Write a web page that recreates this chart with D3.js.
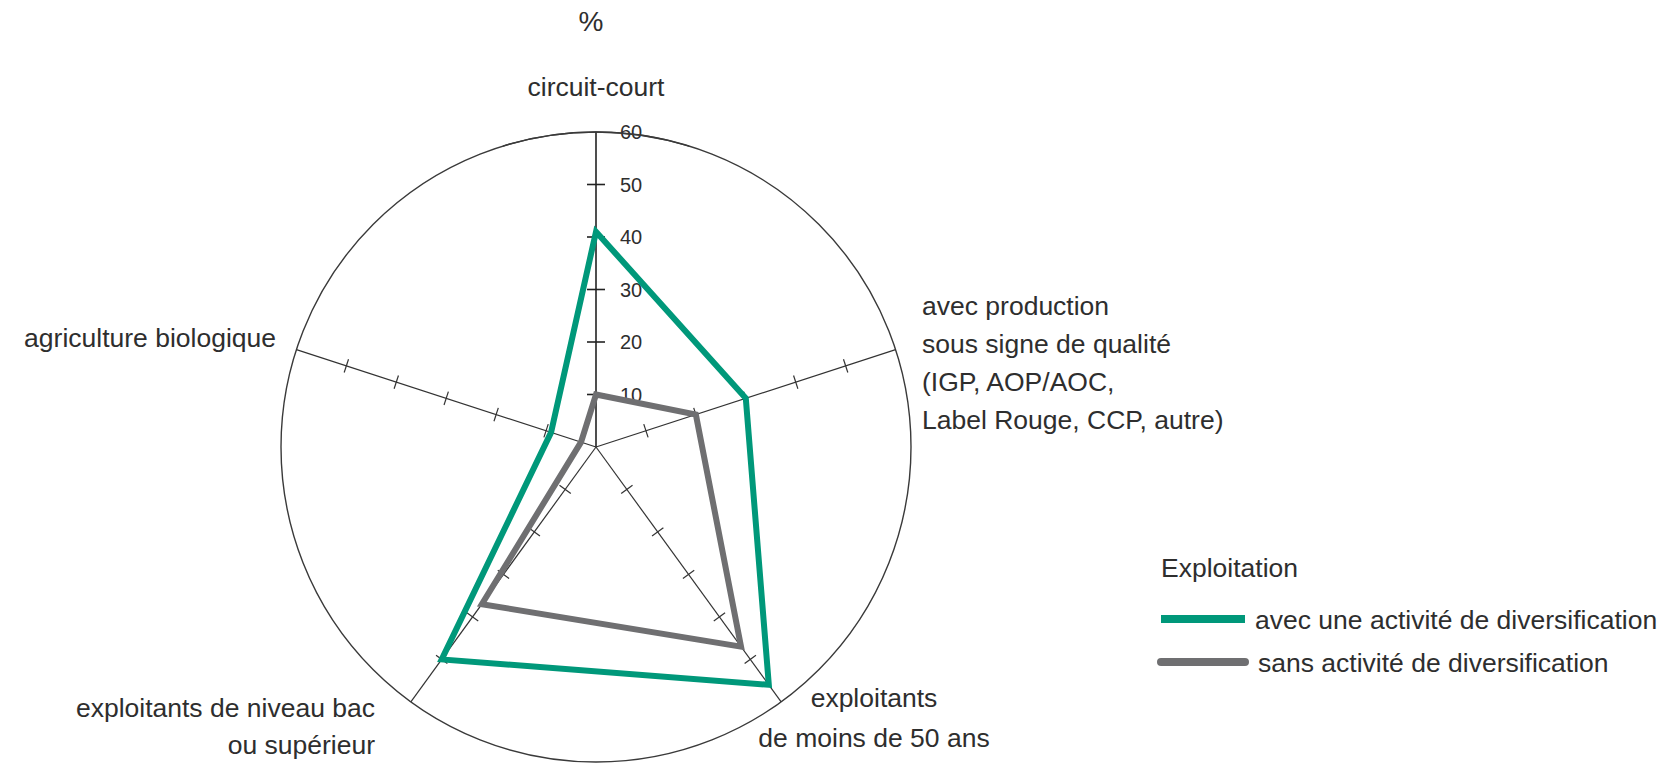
<!DOCTYPE html>
<html>
<head>
<meta charset="utf-8">
<script src="https://cdn.jsdelivr.net/npm/d3@7"></script>
<style>
    html, body { margin: 0; padding: 0; background: #fff; }
    svg text { font-family: "Liberation Sans", Arial, sans-serif; fill: #2e2e2e; }
</style>
</head>
<body>
<div id="chart"></div>
<script>
// Data (in %)
const categories = [
    "circuit-court",
    "avec production sous signe de qualité",
    "exploitants de moins de 50 ans",
    "exploitants de niveau bac ou supérieur",
    "agriculture biologique"
];
const avecDiversification = [41, 30, 56, 50, 9];
const sansDiversification = [10, 20, 47, 37, 3];
const tickValues = [10, 20, 30, 40, 50, 60];
const seriesNames = ["avec une activité de diversification", "sans activité de diversification"];
const legendTitle = "Exploitation";
const unitLabel = "%";

const width = 1666, height = 763;
const cx = 596, cy = 447, radius = 315;
const green = "#00987a", grey = "#6f6f71";
const labelSize = 26.5;

// Axis labels layout (lines, anchor point, alignment)
const labelLayout = [
    { lines: ["circuit-court"], x: 596, y: 96, anchor: "middle" },
    { lines: ["avec production", "sous signe de qualité", "(IGP, AOP/AOC,", "Label Rouge, CCP, autre)"], x: 922, y: 315, anchor: "start", lh: 38 },
    { lines: ["exploitants", "de moins de 50 ans"], x: 874, y: 707, anchor: "middle", lh: 40 },
    { lines: ["exploitants de niveau bac", "ou supérieur"], x: 375, y: 717, anchor: "end", lh: 37 },
    { lines: ["agriculture biologique"], x: 276, y: 347, anchor: "end" }
];

const svg = d3.select("#chart").append("svg")
    .attr("width", width)
    .attr("height", height);

const r = d3.scaleLinear().domain([0, 60]).range([0, radius]);
const angle = d3.scalePoint().domain(d3.range(categories.length + 1)).range([0, 2 * Math.PI]);

const polar = (a, v) => [cx + r(v) * Math.sin(a), cy - r(v) * Math.cos(a)];

// Outer circle
svg.append("circle")
    .attr("cx", cx)
    .attr("cy", cy)
    .attr("r", r(60))
    .attr("fill", "none")
    .attr("stroke", "#3a3a3a")
    .attr("stroke-width", 1.4);

// Axes with ticks
const axes = svg.append("g").attr("class", "axes");
categories.forEach((c, i) => {
    const a = angle(i);
    const [x2, y2] = polar(a, 60);
    const main = i === 0;
    axes.append("line")
        .attr("x1", cx).attr("y1", cy)
        .attr("x2", x2).attr("y2", y2)
        .attr("stroke", main ? "#222" : "#333")
        .attr("stroke-width", main ? 1.6 : 1.2);

    const half = main ? 9 : 7;
    axes.selectAll(null)
        .data(tickValues.slice(0, -1))
        .join("line")
        .attr("x1", d => polar(a, d)[0] - half * Math.cos(a))
        .attr("y1", d => polar(a, d)[1] - half * Math.sin(a))
        .attr("x2", d => polar(a, d)[0] + half * Math.cos(a))
        .attr("y2", d => polar(a, d)[1] + half * Math.sin(a))
        .attr("stroke", main ? "#222" : "#333")
        .attr("stroke-width", main ? 1.6 : 1.2);
});

// Tick labels on the vertical axis
svg.append("g")
    .selectAll("text")
    .data(tickValues)
    .join("text")
    .attr("x", cx + 24)
    .attr("y", d => cy - r(d) + 7)
    .attr("font-size", 20)
    .text(d => d);

// redraw circle top so "60" sits under it
svg.append("path")
    .attr("d", d3.arc()({ innerRadius: radius, outerRadius: radius, startAngle: -0.3, endAngle: 0.3 }))
    .attr("transform", `translate(${cx},${cy})`)
    .attr("fill", "none")
    .attr("stroke", "#3a3a3a")
    .attr("stroke-width", 1.4);

// Series
const radar = d3.lineRadial()
    .angle((d, i) => angle(i))
    .radius(d => r(d))
    .curve(d3.curveLinearClosed);

svg.append("g")
    .attr("transform", `translate(${cx},${cy})`)
    .selectAll("path")
    .data([sansDiversification, avecDiversification])
    .join("path")
    .attr("d", radar)
    .attr("fill", "none")
    .attr("stroke", (d, i) => i === 0 ? grey : green)
    .attr("stroke-width", 6)
    .attr("stroke-linejoin", "miter");

// Category labels
const labels = svg.append("g").attr("font-size", labelSize);
labelLayout.forEach(l => {
    const t = labels.append("text")
        .attr("text-anchor", l.anchor);
    l.lines.forEach((line, j) => {
        t.append("tspan")
            .attr("x", l.x)
            .attr("y", l.y + j * (l.lh || 0))
            .text(line);
    });
});

svg.append("text")
    .attr("x", 591)
    .attr("y", 31)
    .attr("text-anchor", "middle")
    .attr("font-size", 28)
    .text(unitLabel);

// Legend
const legend = svg.append("g").attr("font-size", labelSize);
legend.append("text")
    .attr("x", 1161)
    .attr("y", 577)
    .text(legendTitle);

const legendRows = [
    { color: green, x1: 1161, x2: 1245, y: 619, cap: "butt", tx: 1255 },
    { color: grey, x1: 1161, x2: 1245, y: 662, cap: "round", tx: 1258 }
];
legend.selectAll("g.item")
    .data(seriesNames)
    .join("g")
    .attr("class", "item")
    .each(function (name, i) {
        const row = legendRows[i];
        const g = d3.select(this);
        g.append("line")
            .attr("x1", row.x1).attr("x2", row.x2)
            .attr("y1", row.y).attr("y2", row.y)
            .attr("stroke", row.color)
            .attr("stroke-width", 8)
            .attr("stroke-linecap", row.cap);
        g.append("text")
            .attr("x", row.tx)
            .attr("y", row.y + 10)
            .text(name);
    });
</script>
</body>
</html>
